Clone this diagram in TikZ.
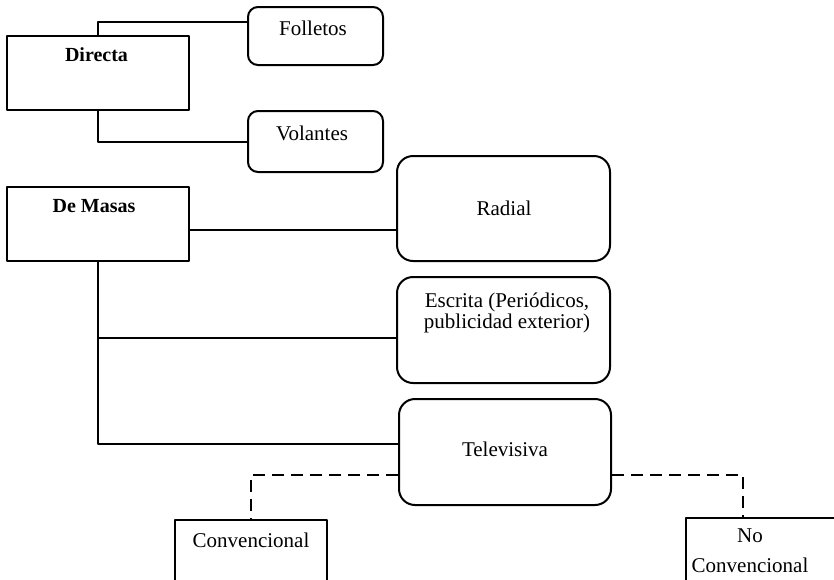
\documentclass[tikz,border=0pt]{standalone}
\usepackage{fontspec}
\setmainfont{Liberation Serif}
\usepackage{tikz}

\begin{document}
\begin{tikzpicture}[x=.5pt,y=-.5pt,line join=round]
\tikzstyle{sqbox} = [draw,line width=1pt,inner sep=0pt]
\tikzstyle{rbox} = [draw,line width=1pt,inner sep=0pt,rounded corners=8pt]
\tikzstyle{txt} = [anchor=base,inner sep=0pt,font=\fontsize{10.5}{10.5}\selectfont]
\tikzstyle{btxt} = [txt,font=\fontsize{10}{10}\selectfont\bfseries]
\tikzstyle{dashline} = [line width=1.2pt,dash pattern=on 6pt off 3.5pt]
\clip (0,0) rectangle (834,579);
\node[sqbox,minimum width=91pt,minimum height=37pt] (directa) at (98,73) {};
\node[rbox,rounded corners=5pt,minimum width=67.5pt,minimum height=29pt] (folletos) at (315.5,36) {};
\node[rbox,rounded corners=5pt,minimum width=67.5pt,minimum height=30.5pt] (volantes) at (315.5,141.5) {};
\node[sqbox,minimum width=91pt,minimum height=37pt] (masas) at (98,224) {};
\node[rbox,minimum width=106.5pt,minimum height=52.5pt] (radial) at (503.5,208.5) {};
\node[rbox,minimum width=106.5pt,minimum height=53pt] (escrita) at (503.5,330) {};
\node[rbox,minimum width=106pt,minimum height=53pt] (tele) at (505,452) {};
\node[sqbox,minimum width=76pt,minimum height=40pt] (conv) at (251,560) {};
\node[sqbox,minimum width=87pt,minimum height=41pt] (noconv) at (773,559) {};
\node[btxt] (tdirecta) at (96.5,61) {Directa};
\node[txt] (tfolletos) at (313,35) {Folletos};
\node[txt] (tvolantes) at (312,140) {Volantes};
\node[btxt] (tmasas) at (94,212) {De Masas};
\node[txt] (tradial) at (504,215) {Radial};
\node[txt,anchor=center,align=center] (tescrita) at (507,313) {Escrita (Periódicos,\\publicidad exterior)};
\node[txt] (ttele) at (505,456) {Televisiva};
\node[txt] (tconv) at (251,547) {Convencional};
\node[txt,anchor=center,align=center,font=\fontsize{10.5}{15}\selectfont] (tnoconv) at (750,551) {No\\Convencional};
\draw[line width=1pt] (directa.north) |- ([yshift=7pt]folletos.west);
\draw[line width=1pt] (directa.south) |- (volantes.west);
\draw[line width=1pt] ([yshift=-3pt]masas.east) -- ([yshift=-3pt]masas.east -| radial.west);
\draw[line width=1.2pt] (masas.south) |- ([yshift=4pt]tele.west);
\draw[line width=1pt] ([yshift=-4pt]escrita.west) -- ([yshift=-4pt]escrita.west -| masas.south);
\draw[dashline] ([yshift=-11.5pt]tele.west) -| (conv.north);
\draw[dashline] ([yshift=-11.5pt]tele.east) -| ([xshift=29pt]noconv.north west);
\end{tikzpicture}
\end{document}
